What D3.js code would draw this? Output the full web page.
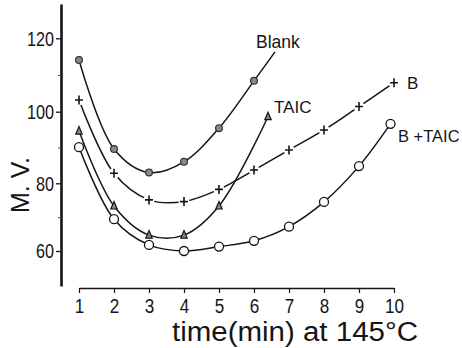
<!DOCTYPE html>
<html>
<head>
<meta charset="utf-8">
<script src="https://cdn.jsdelivr.net/npm/d3@7"></script>
<style>
  html, body { margin: 0; padding: 0; background: #fff; }
  svg { display: block; }
</style>
</head>
<body>
<svg id="chart" width="462" height="348"></svg>
<script>
// ---- data ----
const xTicks = [1, 2, 3, 4, 5, 6, 7, 8, 9, 10];
const yTicks = [60, 80, 100, 120];
const yMinorTicks = [70, 90, 110];

const blankTimes = [1, 2, 3, 4, 5, 6];
const blankValues = [114.1, 89.6, 83.0, 86.0, 95.4, 108.4];
const blankTailTime = 6.6;      // curve continues past last marker
const blankTailValue = 116.3;

const bTimes = [1, 2, 3, 4, 5, 6, 7, 8, 9, 10];
const bValues = [103.2, 82.8, 75.1, 74.6, 78.2, 83.7, 89.3, 94.9, 101.4, 107.9];

const taicTimes = [1, 2, 3, 4, 5, 6.4];
const taicValues = [94.6, 73.3, 64.7, 64.7, 73.3, 98.6];

const bTaicTimes = [1, 2, 3, 4, 5, 6, 7, 8, 9, 9.9];
const bTaicValues = [90.1, 69.4, 61.8, 60.0, 61.3, 63.0, 67.2, 74.5, 84.8, 96.6];

const seriesLabels = ["Blank", "TAIC", "B", "B +TAIC"];
const xTitle = "time(min) at 145°C";
const yTitle = "M. V.";

// ---- drawing ----
const svg = d3.select("#chart");
const ink = "#151515";

const x = d3.scaleLinear().domain([1, 10]).range([79, 394]);
const y = d3.scaleLinear()
  .domain([50, 60, 80, 100, 120, 130])
  .range([286, 251, 183.3, 111.7, 38.3, 4]);

const tickFont = "'Liberation Sans', Arial, sans-serif";
const labelFont = "'Liberation Sans', Arial, sans-serif";

// Y axis
const yAxis = svg.append("g").attr("transform", "translate(61,0)")
  .call(d3.axisLeft(y).tickValues(yTicks).tickSize(5).tickSizeOuter(0).tickPadding(2));
yAxis.select(".domain").attr("stroke", ink).attr("stroke-width", 2.6);
yAxis.selectAll(".tick line").attr("stroke", ink).attr("stroke-width", 1.3);
yAxis.selectAll(".tick text").attr("fill", ink)
  .style("font-family", tickFont).style("font-size", "21px")
  .attr("textLength", d => String(d).length * 9)
  .attr("lengthAdjust", "spacingAndGlyphs");

const yMinor = svg.append("g").attr("transform", "translate(61,0)")
  .call(d3.axisLeft(y).tickValues(yMinorTicks).tickSize(3).tickFormat(""));
yMinor.select(".domain").remove();
yMinor.selectAll(".tick line").attr("stroke", "#555").attr("stroke-width", 1);

// X axis
const xAxis = svg.append("g").attr("transform", "translate(0,288)")
  .call(d3.axisBottom(x).tickValues(xTicks).tickSize(5).tickSizeOuter(0).tickPadding(6));
xAxis.select(".domain").attr("stroke", ink).attr("stroke-width", 1.6);
xAxis.selectAll(".tick line").attr("stroke", ink).attr("stroke-width", 1.2);
xAxis.selectAll(".tick text").attr("fill", ink)
  .style("font-family", tickFont).style("font-size", "20px")
  .attr("textLength", d => String(d).length * 9.5)
  .attr("lengthAdjust", "spacingAndGlyphs");

// Titles
svg.append("text")
  .attr("x", 172).attr("y", 341)
  .attr("textLength", 246).attr("lengthAdjust", "spacingAndGlyphs")
  .style("font-family", labelFont).style("font-size", "27px")
  .attr("fill", ink).text(xTitle);

svg.append("text")
  .attr("transform", "translate(29,185) rotate(-90)")
  .attr("text-anchor", "middle")
  .style("font-family", labelFont).style("font-size", "25px")
  .attr("fill", ink).text(yTitle);

// Curves
const line = d3.line()
  .x(d => x(d[0])).y(d => y(d[1]))
  .curve(d3.curveCatmullRom.alpha(0.5));

const zip = (ts, vs) => ts.map((t, i) => [t, vs[i]]);
const blankPts = zip(blankTimes, blankValues);
const bPts = zip(bTimes, bValues);
const taicPts = zip(taicTimes, taicValues);
const bTaicPts = zip(bTaicTimes, bTaicValues);

const curves = svg.append("g").attr("fill", "none").attr("stroke", ink).attr("stroke-width", 1.5);
curves.append("path").attr("d", line(blankPts.concat([[blankTailTime, blankTailValue]])));
curves.append("path").attr("d", line(bPts));
curves.append("path").attr("d", line(taicPts));
curves.append("path").attr("d", line(bTaicPts));

// Markers
const m = svg.append("g");
// B: plus signs with small gaps in the line
m.selectAll(".bgap").data(bPts).join("circle")
  .attr("cx", d => x(d[0])).attr("cy", d => y(d[1])).attr("r", 5.5).attr("fill", "#fff");
m.selectAll(".bplus").data(bPts).join("path")
  .attr("d", d => { const cx = x(d[0]), cy = y(d[1]);
    return `M${cx - 4},${cy}H${cx + 4}M${cx},${cy - 4.5}V${cy + 4.5}`; })
  .attr("stroke", ink).attr("stroke-width", 1.6).attr("fill", "none");

// Blank: grey filled circles
m.selectAll(".blank").data(blankPts).join("circle")
  .attr("cx", d => x(d[0])).attr("cy", d => y(d[1])).attr("r", 3.4)
  .attr("fill", "#8a8a8a").attr("stroke", "#333").attr("stroke-width", 1.2);

// TAIC: small triangles
m.selectAll(".taic").data(taicPts).join("path")
  .attr("d", d => { const cx = x(d[0]), cy = y(d[1]);
    return `M${cx},${cy - 4.5}L${cx + 3.2},${cy + 3}L${cx - 3.2},${cy + 3}Z`; })
  .attr("fill", "#888").attr("stroke", ink).attr("stroke-width", 1.2);

// B+TAIC: open circles
m.selectAll(".btaic").data(bTaicPts).join("circle")
  .attr("cx", d => x(d[0])).attr("cy", d => y(d[1])).attr("r", 4.5)
  .attr("fill", "#fff").attr("stroke", ink).attr("stroke-width", 1.3);

// Series labels
const labelPos = [[256, 48, 17.5], [274, 113, 17], [407, 89, 17], [398, 142, 16.5]];
svg.append("g").selectAll("text").data(seriesLabels).join("text")
  .attr("x", (d, i) => labelPos[i][0]).attr("y", (d, i) => labelPos[i][1])
  .style("font-size", (d, i) => labelPos[i][2] + "px")
  .style("font-family", labelFont).attr("fill", ink)
  .text(d => d);
</script>
</body>
</html>
